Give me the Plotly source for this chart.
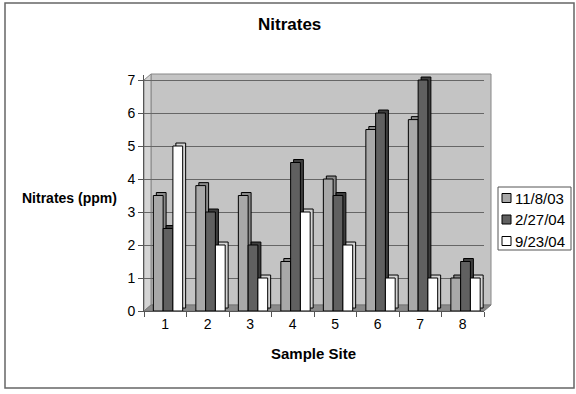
import plotly.graph_objects as go

sites = ["1", "2", "3", "4", "5", "6", "7", "8"]
series_names = ["11/8/03", "2/27/04", "9/23/04"]
s_nov03 = [3.5, 3.8, 3.5, 1.5, 4.0, 5.5, 5.8, 1.0]
s_feb04 = [2.5, 3.0, 2.0, 4.5, 3.5, 6.0, 7.0, 1.5]
s_sep04 = [5.0, 2.0, 1.0, 3.0, 2.0, 1.0, 1.0, 1.0]
y_ticks = [0, 1, 2, 3, 4, 5, 6, 7]

series = [s_nov03, s_feb04, s_sep04]
front_colors = ["#a8a8a8", "#606060", "#ffffff"]
side_colors = ["#8a8a8a", "#3e3e3e", "#d4d4d4"]
offsets = [-0.28, -0.05, 0.18]
width = 0.23
dx, dy = 0.07, 0.09

# plot area in pixels (for placing legend/frame/walls in paper coordinates)
L, R, T7, B = 144, 484, 80, 311     # T7: pixel row of the value 7
EXTRA = 5                           # pixels of headroom above 7
T = T7 - EXTRA
DX, DY = 7, 6  # depth of the 3-D walls, pixels
ymax = max(y_ticks) * (B - T) / (B - T7)


def px(x):
    return (x - L) / (R - L)


def py(y):
    return (B - y) / (B - T)


def path(points):
    return "M " + " L ".join(f"{px(a):.5f},{py(b):.5f}" for a, b in points) + " Z"


fig = go.Figure()
# depth (3-D look) bars behind
for vals, off, col in zip(series, offsets, side_colors):
    fig.add_trace(go.Bar(
        x=sites, y=vals, base=dy, offset=off + dx, width=width,
        marker=dict(color=col, line=dict(color="black", width=1)),
        showlegend=False, hoverinfo="skip"))
# front faces
for name, vals, off, col in zip(series_names, series, offsets, front_colors):
    fig.add_trace(go.Bar(
        x=sites, y=vals, name=name, offset=off, width=width,
        showlegend=False,
        marker=dict(color=col, line=dict(color="black", width=1))))

shapes = [
    # back wall
    dict(type="rect", xref="paper", yref="paper",
         x0=px(L + DX), x1=px(R + DX), y0=py(B - DY), y1=py(T7 - DY),
         fillcolor="#c4c4c4", line=dict(color="#888", width=1), layer="below"),
    # side wall
    dict(type="path", xref="paper", yref="paper",
         path=path([(L, B), (L + DX, B - DY), (L + DX, T7 - DY), (L, T7)]),
         fillcolor="#d4d4d4", line=dict(color="#888", width=1), layer="below"),
    # floor
    dict(type="path", xref="paper", yref="paper",
         path=path([(L, B), (R, B), (R + DX, B - DY), (L + DX, B - DY)]),
         fillcolor="#8a8a8a", line=dict(color="#777", width=1), layer="below"),
    # outer frame
    dict(type="rect", xref="paper", yref="paper",
         x0=px(5), x1=px(574), y0=py(388), y1=py(3),
         line=dict(color="#666", width=1.5), fillcolor="rgba(0,0,0,0)"),
    # legend box
    dict(type="rect", xref="paper", yref="paper",
         x0=px(498), x1=px(571), y0=py(250), y1=py(187),
         line=dict(color="#555", width=1), fillcolor="white"),
]
font = "Liberation Sans, Arial, sans-serif"
annotations = [
    dict(text="<b>Nitrates</b>", xref="paper", yref="paper",
         x=px(289), y=py(25), xanchor="center", yanchor="middle",
         showarrow=False, font=dict(size=17)),
    dict(text="<b>Nitrates (ppm)</b>", xref="paper", yref="paper",
         x=px(69), y=py(198), xanchor="center", yanchor="middle",
         showarrow=False, font=dict(size=14)),
    dict(text="<b>Sample Site</b>", xref="paper", yref="paper",
         x=px(313), y=py(353), xanchor="center", yanchor="middle",
         showarrow=False, font=dict(size=15)),
]
for i, (name, col) in enumerate(zip(series_names, front_colors)):
    cy = 198 + i * 21.5
    shapes.append(dict(type="rect", xref="paper", yref="paper",
                       x0=px(502), x1=px(511), y0=py(cy + 4.5), y1=py(cy - 4.5),
                       fillcolor=col, line=dict(color="black", width=1)))
    annotations.append(dict(text=name, xref="paper", yref="paper",
                            x=px(513), y=py(cy), xanchor="left",
                            yanchor="middle", showarrow=False,
                            font=dict(size=15)))

fig.update_layout(
    width=576, height=394,
    barmode="overlay",
    paper_bgcolor="white", plot_bgcolor="rgba(0,0,0,0)",
    margin=dict(l=L, r=576 - R, t=T, b=394 - B, autoexpand=False),
    font=dict(family=font, size=14, color="black"),
    showlegend=False,
    xaxis=dict(type="category", tickson="boundaries", ticks="outside",
               ticklen=5, tickcolor="#555", showgrid=False,
               showline=True, linecolor="#555", tickfont=dict(size=14)),
    yaxis=dict(range=[0, ymax], tickvals=y_ticks, ticks="outside", ticklen=5,
               tickcolor="#555", showline=True, linecolor="#555",
               gridcolor="#666666", gridwidth=1, zeroline=False,
               tickfont=dict(size=14)),
    annotations=annotations,
    shapes=shapes,
)

fig.write_html("out.html", config={"displayModeBar": False},
               post_script="document.body.style.margin='0';"
                           "document.body.style.overflow='hidden';")
